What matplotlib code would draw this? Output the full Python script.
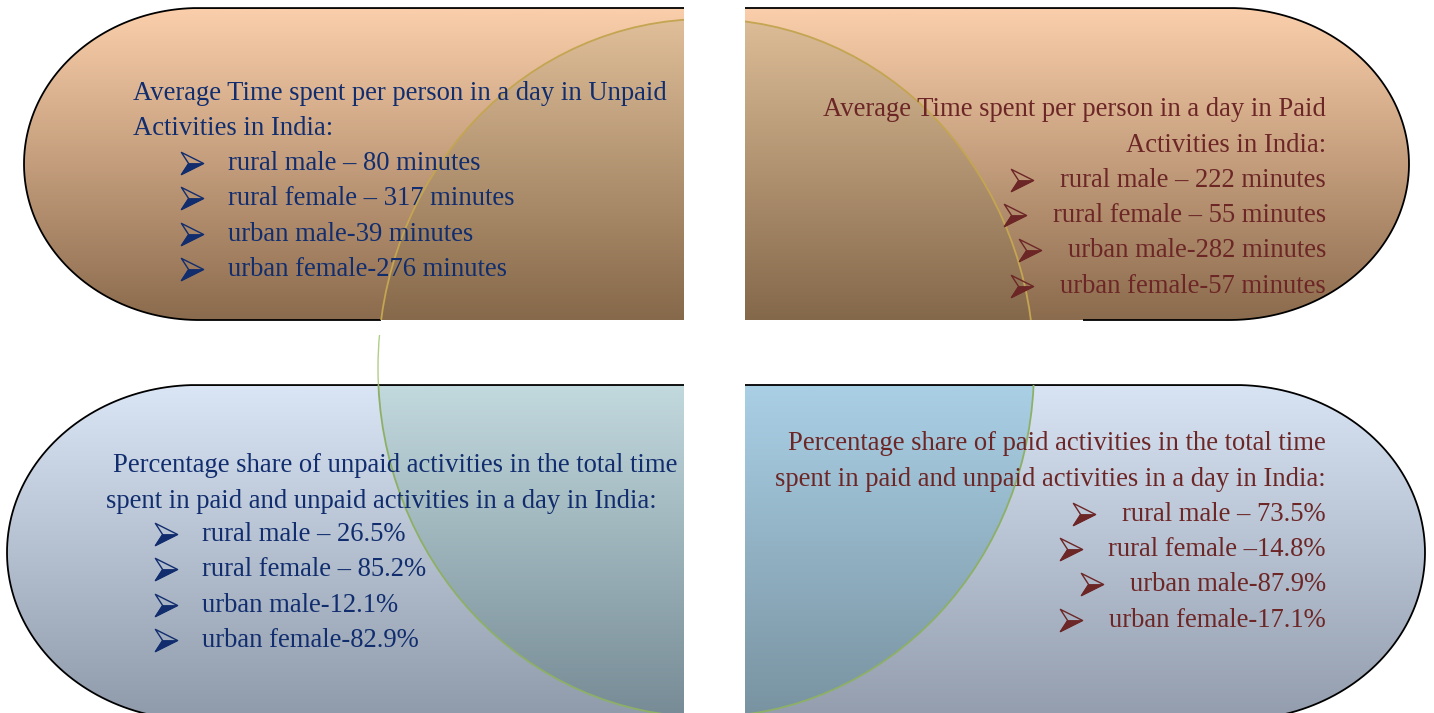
import numpy as np
import matplotlib.pyplot as plt
from matplotlib.path import Path
from matplotlib.patches import PathPatch, Ellipse, Rectangle

# Textos de los cuatro paneles
tl_titulo = ["Average Time spent per person in a day in Unpaid", "Activities in India:"]
tl_items = ["rural male \u2013 80 minutes", "rural female \u2013 317 minutes",
            "urban male-39 minutes", "urban female-276 minutes"]
tr_titulo = ["Average Time spent per person in a day in Paid", "Activities in India:"]
tr_items = ["rural male \u2013 222 minutes", "rural female \u2013 55 minutes",
            "urban male-282 minutes", "urban female-57 minutes"]
bl_titulo = ["Percentage share of unpaid activities in the total time",
             "spent in paid and unpaid activities in a day in India:"]
bl_items = ["rural male \u2013 26.5%", "rural female \u2013 85.2%",
            "urban male-12.1%", "urban female-82.9%"]
br_titulo = ["Percentage share of paid activities in the total time",
             "spent in paid and unpaid activities in a day in India:"]
br_items = ["rural male \u2013 73.5%", "rural female \u201314.8%",
            "urban male-87.9%", "urban female-17.1%"]

W, H = 1434, 713
AZUL = '#112d6e'
ROJO = '#6c2626'
FUENTE = ['Liberation Serif', 'DejaVu Sans']
FS = 19.2

# Formas: (x_corte, x_extremo, y0, y1, a, lado)
formas = {
    'tl': (684, 24, 8, 320, 175, 'izq'),
    'tr': (745, 1409, 8, 320, 180, 'der'),
    'bl': (684, 7, 385, 720, 190, 'izq'),
    'br': (745, 1425, 385, 720, 190, 'der'),
}
# colores degradado (arriba, abajo) fuera y dentro de la elipse
colores = {
    'tl': ('#fbcfab', '#8b6b4d', '#e3c29c', '#86694a'),
    'tr': ('#fbcfab', '#8b6b4d', '#e0c09a', '#84684a'),
    'bl': ('#dae6f5', '#909cab', '#c2d9de', '#778c96'),
    'br': ('#d8e4f4', '#949eae', '#aad0e6', '#7993a1'),
}
ecx, ecy, erx, ery = 706, 368, 328, 349


def hex2rgb(h):
    return np.array([int(h[i:i + 2], 16) / 255 for i in (1, 3, 5)])


def arco(f):
    xc, xe, y0, y1, a, lado = f
    cy, b = (y0 + y1) / 2, (y1 - y0) / 2
    t = np.linspace(0, np.pi, 200)
    if lado == 'izq':
        cx = xe + a
        return np.column_stack([cx - a * np.sin(t), cy - b * np.cos(t)])
    cx = xe - a
    return np.column_stack([cx + a * np.sin(t), cy - b * np.cos(t)])


def mascara(X, Y, f):
    xc, xe, y0, y1, a, lado = f
    cy, b = (y0 + y1) / 2, (y1 - y0) / 2
    if lado == 'izq':
        cx = xe + a
        dentro = (X <= xc) & ((X >= cx) | (((X - cx) / a) ** 2 + ((Y - cy) / b) ** 2 <= 1))
    else:
        cx = xe - a
        dentro = (X >= xc) & ((X <= cx) | (((X - cx) / a) ** 2 + ((Y - cy) / b) ** 2 <= 1))
    return dentro & (Y >= y0) & (Y <= y1)


def contorno(f, xfin_inf=None):
    xc, y1 = f[0], f[3]
    pts = [[xc, f[2]]] + arco(f).tolist()
    if xfin_inf is not None:
        pts.append([xfin_inf, y1])
    return Path(np.array(pts))


def path_forma(f):
    xc, y0, y1 = f[0], f[2], f[3]
    pts = [[xc, y0]] + arco(f).tolist() + [[xc, y1], [xc, y0]]
    return Path(np.array(pts), closed=True)


# Imagen de fondo con degradados
Y, X = np.mgrid[0:H, 0:W] + 0.5
img = np.ones((H, W, 3))
en_elipse = ((X - ecx) / erx) ** 2 + ((Y - ecy) / ery) ** 2 <= 1
for k, f in formas.items():
    m = mascara(X, Y, f)
    y0, y1 = f[2], min(f[3], 712)
    tt = np.clip((Y - y0) / (y1 - y0), 0, 1)[..., None]
    c1, c2, c3, c4 = [hex2rgb(c) for c in colores[k]]
    fuera = c1 + (c2 - c1) * tt
    dentro = c3 + (c4 - c3) * tt
    capa = np.where(en_elipse[..., None], dentro, fuera)
    img[m] = capa[m]

fig = plt.figure(figsize=(W / 100, H / 100), dpi=100)
ax = fig.add_axes([0, 0, 1, 1])
ax.imshow(img, extent=(0, W, H, 0), interpolation='bilinear')
ax.set_xlim(0, W)
ax.set_ylim(H, 0)
ax.axis('off')

# bordes negros
bordes = {'tl': 381, 'tr': 1083, 'bl': None, 'br': None}
for k, f in formas.items():
    ax.add_patch(PathPatch(contorno(f, bordes[k]), fill=False, ec='black', lw=1.3))

# contorno de la elipse recortado a cada forma
for k, f in formas.items():
    col = '#c4a552' if k in ('tl', 'tr') else '#8db067'
    clip = PathPatch(path_forma(f), transform=ax.transData, visible=False)
    ax.add_patch(clip)
    e = Ellipse((ecx, ecy), 2 * erx, 2 * ery, fill=False, ec=col, lw=1.3)
    ax.add_patch(e)
    e.set_clip_path(clip)
hueco = Rectangle((0, 335), 684, 50, transform=ax.transData, visible=False)
ax.add_patch(hueco)
e = Ellipse((ecx, ecy), 2 * erx, 2 * ery, fill=False, ec='#9cc26a', lw=1.0, alpha=0.8)
ax.add_patch(e)
e.set_clip_path(hueco)

# vineta de flecha (punta 3D): contorno + mitad inferior rellena
contorno_flecha = Path([(-1, 1), (1, 0), (-1, -1), (-0.35, 0), (-1, 1)], closed=True)
mitad_flecha = Path([(-1, -1), (1, 0), (-0.35, 0), (-1, -1)], closed=True)


def flecha(x_der, y, color):
    xc, yc = x_der - 8, y - 7
    ax.plot(xc, yc, marker=contorno_flecha, ms=16, mfc='none', mec=color, mew=1.0)
    ax.plot(xc, yc, marker=mitad_flecha, ms=16, mfc=color, mec=color, mew=0.6)


# panel superior izquierdo
for i, s in enumerate(tl_titulo):
    ax.text(133, 100 + 35.2 * i, s, ha='left', va='baseline', fontsize=FS,
            color=AZUL, family=FUENTE)
for i, s in enumerate(tl_items):
    y = 170 + 35.3 * i
    ax.text(228, y, s, ha='left', va='baseline', fontsize=FS, color=AZUL, family=FUENTE)
    flecha(200, y, AZUL)

# panel inferior izquierdo
for x, y, s in zip([113, 106], [472, 508], bl_titulo):
    ax.text(x, y, s, ha='left', va='baseline', fontsize=FS, color=AZUL, family=FUENTE)
for i, s in enumerate(bl_items):
    y = 541 + 35.3 * i
    ax.text(202, y, s, ha='left', va='baseline', fontsize=FS, color=AZUL, family=FUENTE)
    flecha(174, y, AZUL)

# paneles derechos (alineados a la derecha)
fig.canvas.draw()
rend = fig.canvas.get_renderer()
inv = ax.transData.inverted()

for titulo, items, yt, yb in [(tr_titulo, tr_items, 116, 187), (br_titulo, br_items, 450, 521)]:
    for i, s in enumerate(titulo):
        ax.text(1326, yt + 35.5 * i, s, ha='right', va='baseline', fontsize=FS,
                color=ROJO, family=FUENTE)
    for i, s in enumerate(items):
        y = yb + 35.2 * i
        t = ax.text(1326, y, s, ha='right', va='baseline', fontsize=FS,
                    color=ROJO, family=FUENTE)
        bb = t.get_window_extent(rend)
        x0 = inv.transform((bb.x0, bb.y0))[0]
        flecha(x0 - 30, y, ROJO)

fig.savefig('out.png', dpi=100)
